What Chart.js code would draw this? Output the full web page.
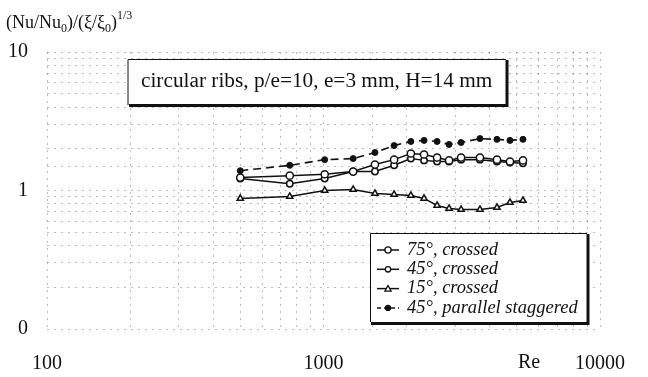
<!DOCTYPE html>
<html><head><meta charset="utf-8">
<script src="https://cdn.jsdelivr.net/npm/chart.js@4.4.1/dist/chart.umd.min.js"></script>
<style>html,body{margin:0;padding:0;background:#fff}</style>
</head><body>
<canvas id="c" width="648" height="377"></canvas>
<script>
// ---- data ----
const reynolds   = [500, 755, 1010, 1280, 1535, 1800, 2070, 2310, 2575, 2845, 3145, 3680, 4240, 4725, 5265];
const crossed75  = [1.24, 1.28, 1.31, 1.37, 1.54, 1.67, 1.85, 1.82, 1.73, 1.65, 1.73, 1.73, 1.67, 1.62, 1.65];
const crossed45  = [1.22, 1.12, 1.22, 1.37, 1.37, 1.52, 1.70, 1.65, 1.62, 1.62, 1.67, 1.67, 1.62, 1.59, 1.57];
const crossed15  = [0.876, 0.905, 1.0, 1.017, 0.951, 0.936, 0.92, 0.876, 0.779, 0.741, 0.729, 0.729, 0.754, 0.819, 0.847];
const parallel45 = [1.39, 1.52, 1.67, 1.70, 1.88, 2.11, 2.26, 2.30, 2.26, 2.15, 2.22, 2.37, 2.34, 2.30, 2.34];
const seriesLabels = ['75°, crossed', '45°, crossed', '15°, crossed', '45°, parallel staggered'];
const xTickValues = [100, 1000, 10000];
const xTickTexts  = ['100', '1000', '10000'];
const yTickValues = [0.1, 1, 10];
const yTickTexts  = ['0', '1', '10'];
const chartTitle  = 'circular ribs, p/e=10, e=3 mm, H=14 mm';
const xAxisName   = 'Re';

const pick = (vals, texts) => (v) => {
  const i = vals.findIndex(t => Math.abs(v - t) / t < 1e-6);
  return i >= 0 ? texts[i] : '';
};
const mk = ys => reynolds.map((x, i) => ({x: x, y: ys[i]}));
const INK = '#111';
const SERIF = '"Liberation Serif", "Times New Roman", serif';

const overlay = {
  id: 'overlay',
  afterDraw(chart) {
    const c = chart.ctx;
    c.save();
    c.fillStyle = INK; c.strokeStyle = INK;
    // y-axis title with sub/superscripts
    const parts = [['(Nu/Nu',18,0],['0',12,4],[')/(ξ/ξ',18,0],['0',12,4],[')',18,0],['1/3',12,-9]];
    let x = 6; const by = 28;
    c.textBaseline = 'alphabetic'; c.textAlign = 'left';
    for (const [t, s, dy] of parts) {
      c.font = s + 'px ' + SERIF;
      c.fillText(t, x, by + dy);
      x += c.measureText(t).width;
    }
    // x-axis name
    c.font = '20px ' + SERIF; c.textAlign = 'center'; c.textBaseline = 'middle';
    c.fillText(xAxisName, 529, 363);

    // title box
    c.fillStyle = '#fff';
    c.fillRect(128, 59, 378, 46);
    c.lineWidth = 1; c.strokeStyle = INK;
    c.beginPath(); c.moveTo(128, 105); c.lineTo(128, 59.5); c.lineTo(506, 59.5); c.stroke();
    c.lineWidth = 3;
    c.beginPath(); c.moveTo(507, 60); c.lineTo(507, 105.5); c.lineTo(129, 105.5); c.stroke();
    c.fillStyle = INK; c.textAlign = 'left'; c.textBaseline = 'alphabetic';
    c.font = '21.3px ' + SERIF;
    c.fillText(chartTitle, 141, 87);

    // legend box
    c.fillStyle = '#fff';
    c.fillRect(370, 233, 217, 89);
    c.lineWidth = 1;
    c.beginPath(); c.moveTo(370.5, 322); c.lineTo(370.5, 233.5); c.lineTo(587, 233.5); c.stroke();
    c.lineWidth = 3;
    c.beginPath(); c.moveTo(588, 234); c.lineTo(588, 323.5); c.lineTo(371, 323.5); c.stroke();

    chart.data.datasets.forEach((ds, i) => {
      const y = 250 + i * 19.3;
      c.lineWidth = 1.5; c.strokeStyle = INK;
      c.setLineDash(ds.borderDash ? [4, 3] : []);
      c.beginPath(); c.moveTo(377, y); c.lineTo(399, y); c.stroke();
      c.setLineDash([]);
      const r = ds.pointRadius - 0.5;
      c.fillStyle = ds.pointBackgroundColor; c.lineWidth = 1.3;
      c.beginPath();
      if (ds.pointStyle === 'triangle') {
        c.moveTo(388, y - r); c.lineTo(388 + r, y + r * 0.8); c.lineTo(388 - r, y + r * 0.8); c.closePath();
      } else {
        c.arc(388, y, r, 0, Math.PI * 2);
      }
      c.fill(); c.stroke();
      c.fillStyle = INK;
      c.font = 'italic 18.5px ' + SERIF; c.textBaseline = 'middle';
      c.fillText(ds.label, 407, y);
    });
    c.restore();
  }
};

const gridOpts = { color: 'rgba(0,0,0,0.27)', lineWidth: 1, drawTicks: false };
const tickFont = { family: SERIF, size: 20 };

new Chart(document.getElementById('c'), {
  type: 'line',
  data: { datasets: [
    { label: seriesLabels[0], data: mk(crossed75), borderColor: INK, borderWidth: 1.5,
      pointStyle: 'circle', pointRadius: 3.6, pointBackgroundColor: '#fff', pointBorderColor: INK, pointBorderWidth: 1.5 },
    { label: seriesLabels[1], data: mk(crossed45), borderColor: INK, borderWidth: 1.5,
      pointStyle: 'circle', pointRadius: 3.2, pointBackgroundColor: '#fff', pointBorderColor: INK, pointBorderWidth: 1.5 },
    { label: seriesLabels[2], data: mk(crossed15), borderColor: INK, borderWidth: 1.5,
      pointStyle: 'triangle', pointRadius: 3.6, pointBackgroundColor: '#fff', pointBorderColor: INK, pointBorderWidth: 1.5 },
    { label: seriesLabels[3], data: mk(parallel45), borderColor: INK, borderWidth: 1.6, borderDash: [8, 5],
      pointStyle: 'circle', pointRadius: 3, pointBackgroundColor: INK, pointBorderColor: INK, pointBorderWidth: 1 }
  ]},
  options: {
    responsive: false, animation: false, devicePixelRatio: 1,
    layout: { padding: { top: 52, right: 48, bottom: 0, left: 0 } },
    plugins: { legend: { display: false }, tooltip: { enabled: false } },
    elements: { line: { tension: 0 } },
    scales: {
      x: { type: 'logarithmic', min: 100, max: 10000,
        border: { display: false, dash: [2, 5] }, grid: gridOpts,
        ticks: { autoSkip: false, maxRotation: 0, padding: 23, color: INK, font: tickFont,
          callback: pick(xTickValues, xTickTexts) },
        afterFit: s => { s.height = 48; } },
      y: { type: 'logarithmic', min: 0.1, max: 10,
        border: { display: false, dash: [2, 5] }, grid: gridOpts,
        ticks: { autoSkip: false, padding: 19, color: INK, font: tickFont,
          callback: pick(yTickValues, yTickTexts) },
        afterFit: s => { s.width = 47; } }
    }
  },
  plugins: [overlay]
});
</script>
</body></html>
